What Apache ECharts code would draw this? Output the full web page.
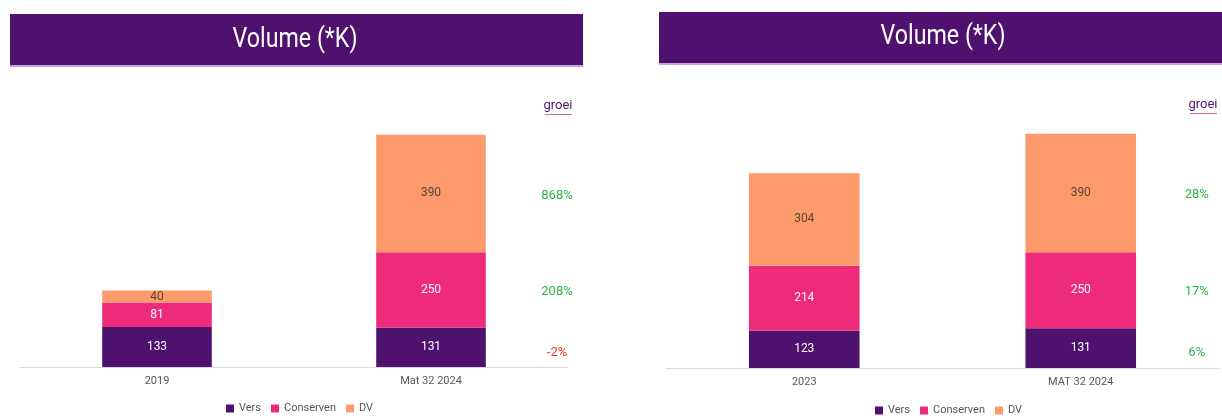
<!DOCTYPE html>
<html>
<head>
<meta charset="utf-8">
<script src="https://cdn.jsdelivr.net/npm/echarts@6/dist/echarts.min.js"></script>
<style>
  html, body { margin: 0; padding: 0; background: #fff; }
  #main { width: 1222px; height: 416px; }
</style>
</head>
<body>
<div id="main"></div>
<script>
// data
var seriesNames = ['Vers', 'Conserven', 'DV'];
var leftCats = ['2019', 'Mat 32 2024'];
var rightCats = ['2023', 'MAT 32 2024'];
var leftVers = [133, 131];
var leftConserven = [81, 250];
var leftDV = [40, 390];
var rightVers = [123, 131];
var rightConserven = [214, 250];
var rightDV = [304, 390];
// growth labels: Vers, Conserven, DV
var leftGrowth = ['-2%', '208%', '868%'];
var rightGrowth = ['6%', '17%', '28%'];
var growthTitle = 'groei';
var chartTitle = 'Volume (*K)';

var colors = ['#4e116e', '#ee2a7b', '#fd9a6c'];
var labelColors = ['#ffffff', '#ffffff', '#5b4436'];
var fontFam = "Roboto, sans-serif";

var myChart = echarts.init(document.getElementById('main'));

function growthColor(txt) {
  return txt.charAt(0) === '-' ? '#e8352c' : '#2fb34a';
}

function makeSeries(idx, cats, vers, cons, dv, growth) {
  var all = [vers, cons, dv];
  var out = [];
  for (var s = 0; s < 3; s++) {
    // growth label sits next to the middle of the last bar's segment
    var below = 0;
    for (var k = 0; k < s; k++) below += all[k][1];
    var mid = below + all[s][1] / 2;
    out.push({
      name: seriesNames[s],
      type: 'bar',
      stack: 'total' + idx,
      xAxisIndex: idx,
      yAxisIndex: idx,
      barWidth: '40%',
      data: all[s],
      itemStyle: { color: colors[s] },
      label: {
        show: true,
        position: 'inside',
        color: labelColors[s],
        fontSize: 12,
        fontFamily: fontFam
      },
      markPoint: {
        symbol: 'circle',
        symbolSize: 0,
        silent: true,
        data: [{
          coord: [cats[1], mid],
          label: {
            show: true,
            formatter: growth[s],
            offset: [idx === 0 ? 126 : 116, s === 0 ? 5 : 2],
            color: growthColor(growth[s]),
            fontSize: 13,
            fontFamily: fontFam
          }
        }]
      }
    });
  }
  return out;
}

function titleText(x, y) {
  return {
    type: 'text', x: x, y: y, scaleX: 0.86,
    style: { text: chartTitle, fill: '#ffffff', font: '27px ' + fontFam, textAlign: 'center', textVerticalAlign: 'middle' }
  };
}

var option = {
  backgroundColor: '#ffffff',
  animation: false,
  graphic: [
    { type: 'rect', shape: { x: 10, y: 14, width: 573, height: 52 }, style: { fill: '#4e116e' } },
    { type: 'rect', shape: { x: 10, y: 65, width: 573, height: 2 }, style: { fill: '#c8a3d6' } },
    { type: 'rect', shape: { x: 659, y: 12, width: 563, height: 52 }, style: { fill: '#4e116e' } },
    { type: 'rect', shape: { x: 659, y: 63, width: 563, height: 2 }, style: { fill: '#c8a3d6' } },
    titleText(295, 40),
    titleText(943, 37),
    { type: 'text', x: 558, y: 106, style: { text: growthTitle, fill: '#4e116e', font: '13px ' + fontFam, textAlign: 'center', textVerticalAlign: 'middle' } },
    { type: 'rect', shape: { x: 545, y: 114, width: 27, height: 1 }, style: { fill: '#d46a8a' } },
    { type: 'text', x: 1203, y: 105, style: { text: growthTitle, fill: '#4e116e', font: '13px ' + fontFam, textAlign: 'center', textVerticalAlign: 'middle' } },
    { type: 'rect', shape: { x: 1190, y: 113, width: 27, height: 1 }, style: { fill: '#d46a8a' } }
  ],
  legend: [
    {
      data: seriesNames,
      left: 221, top: 398,
      itemWidth: 8, itemHeight: 8, itemGap: 10,
      icon: 'rect',
      textStyle: { fontSize: 11, color: '#555', fontFamily: fontFam },
      selectedMode: false
    },
    {
      data: seriesNames,
      left: 870, top: 400,
      itemWidth: 8, itemHeight: 8, itemGap: 10,
      icon: 'rect',
      textStyle: { fontSize: 11, color: '#555', fontFamily: fontFam },
      selectedMode: false
    }
  ],
  grid: [
    { left: 20, width: 548, top: 126, bottom: 49 },
    { left: 666, width: 553, top: 125, bottom: 48 }
  ],
  xAxis: [
    {
      gridIndex: 0, type: 'category', data: leftCats,
      axisLine: { lineStyle: { color: '#d9d9d9' } },
      axisTick: { show: false },
      axisLabel: { color: '#595959', fontSize: 11, margin: 9, fontFamily: fontFam }
    },
    {
      gridIndex: 1, type: 'category', data: rightCats,
      axisLine: { lineStyle: { color: '#d9d9d9' } },
      axisTick: { show: false },
      axisLabel: { color: '#595959', fontSize: 11, margin: 9, fontFamily: fontFam }
    }
  ],
  yAxis: [
    { gridIndex: 0, type: 'value', min: 0, max: 800, show: false, splitLine: { show: false } },
    { gridIndex: 1, type: 'value', min: 0, max: 800, show: false, splitLine: { show: false } }
  ],
  series: makeSeries(0, leftCats, leftVers, leftConserven, leftDV, leftGrowth)
    .concat(makeSeries(1, rightCats, rightVers, rightConserven, rightDV, rightGrowth))
};

myChart.setOption(option);
</script>
</body>
</html>
